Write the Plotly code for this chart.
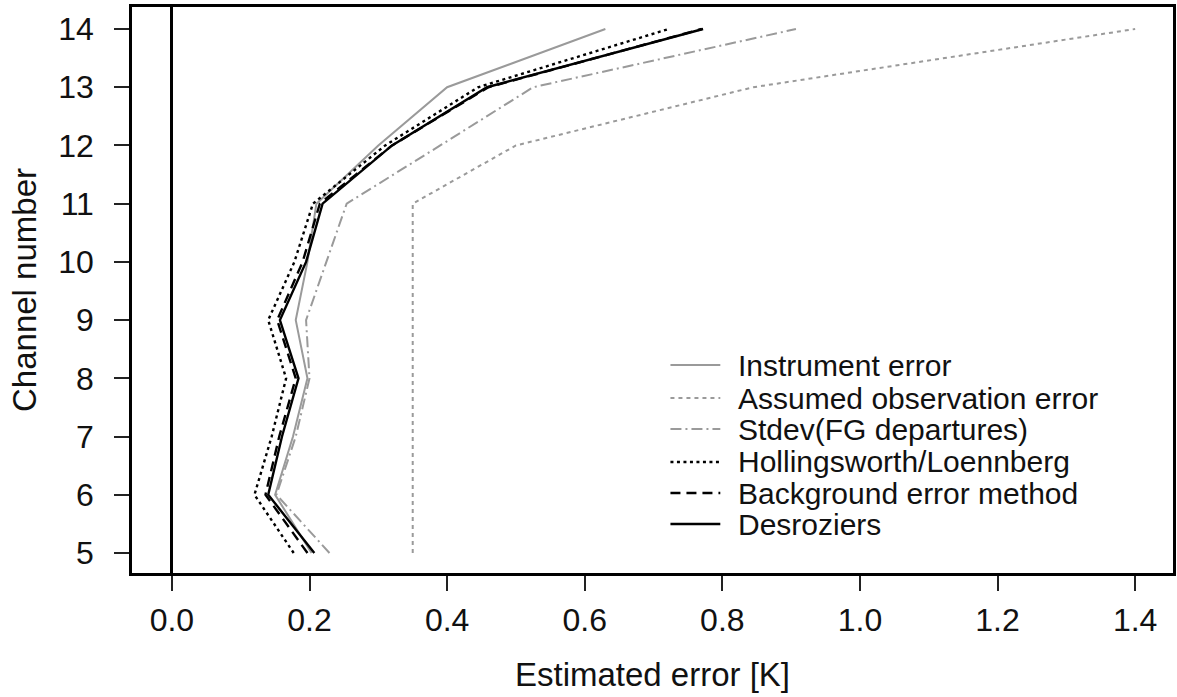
import plotly.graph_objects as go

channels = [5, 6, 7, 8, 9, 10, 11, 12, 13, 14]
instrument_error = [0.203, 0.150, 0.176, 0.197, 0.180, 0.197, 0.210, 0.300, 0.400, 0.630]
assumed_obs_error = [0.35, 0.35, 0.35, 0.35, 0.35, 0.35, 0.35, 0.50, 0.845, 1.40]
stdev_fg = [0.229, 0.152, 0.180, 0.200, 0.195, 0.225, 0.254, 0.390, 0.525, 0.907]
hollingsworth = [0.177, 0.120, 0.145, 0.166, 0.140, 0.178, 0.205, 0.310, 0.445, 0.722]
background_method = [0.197, 0.136, 0.156, 0.180, 0.153, 0.190, 0.215, 0.320, 0.460, 0.770]
desroziers = [0.207, 0.140, 0.160, 0.184, 0.157, 0.195, 0.219, 0.320, 0.458, 0.772]

x_ticks = [0.0, 0.2, 0.4, 0.6, 0.8, 1.0, 1.2, 1.4]
x_ticklabels = ["0.0", "0.2", "0.4", "0.6", "0.8", "1.0", "1.2", "1.4"]
y_ticks = channels

GRAY = "#9a9a9a"
BLACK = "#000000"
FONT = "Liberation Sans, Arial, sans-serif"

series = [
    ("Instrument error", instrument_error, GRAY, "solid", 2),
    ("Assumed observation error", assumed_obs_error, GRAY, "4px,4px", 2),
    ("Stdev(FG departures)", stdev_fg, GRAY, "11px,4px,2px,4px", 2),
    ("Hollingsworth/Loennberg", hollingsworth, BLACK, "3px,3.5px", 2.4),
    ("Background error method", background_method, BLACK, "10px,6px", 2.4),
    ("Desroziers", desroziers, BLACK, "solid", 2.4),
]

fig = go.Figure()
for name, vals, col, dash, w in series:
    fig.add_trace(go.Scatter(x=vals, y=channels, mode="lines", name=name,
                             line=dict(color=col, dash=dash, width=w),
                             showlegend=False))

# manual legend (paper coordinates)
L, T, B, R = 132, 7, 573, 1176
W, H = R - L, B - T
def px(xp):
    return (xp - L) / W
def py(yp):
    return (B - yp) / H

row_y = [365, 398, 429, 462, 493, 524]
shapes = []
annotations = []
for (name, vals, col, dash, w), yy in zip(series, row_y):
    shapes.append(dict(type="line", xref="paper", yref="paper",
                       x0=px(672), x1=px(722), y0=py(yy), y1=py(yy),
                       line=dict(color=col, dash=dash, width=w)))
    annotations.append(dict(xref="paper", yref="paper", x=px(738), y=py(yy),
                            text=name, showarrow=False, xanchor="left",
                            yanchor="middle",
                            font=dict(size=30, color="#111111", family=FONT)))

axis_common = dict(showline=True, mirror=True, linecolor=BLACK, linewidth=2.5,
                   ticks="outside", ticklen=15, tickwidth=2, tickcolor="#222222",
                   showgrid=False,
                   tickfont=dict(size=32, color="#111111", family=FONT))

fig.update_layout(
    width=1177, height=697,
    margin=dict(l=L, r=1177 - R, t=T, b=697 - B),
    paper_bgcolor="white", plot_bgcolor="white",
    shapes=shapes, annotations=annotations,
    xaxis=dict(range=[-0.058, 1.455], tickvals=x_ticks, ticktext=x_ticklabels,
               zeroline=True, zerolinecolor=BLACK, zerolinewidth=2.5,
               ticklabelstandoff=2,
               title=dict(text="Estimated error [K]", standoff=26,
                          font=dict(size=33, color="#111111", family=FONT)),
               **axis_common),
    yaxis=dict(range=[4.656, 14.378], tickvals=y_ticks, zeroline=False,
               ticklabelstandoff=14,
               title=dict(text="Channel number", standoff=12,
                          font=dict(size=33, color="#111111", family=FONT)),
               **axis_common),
)

fig.write_html("out.html")
